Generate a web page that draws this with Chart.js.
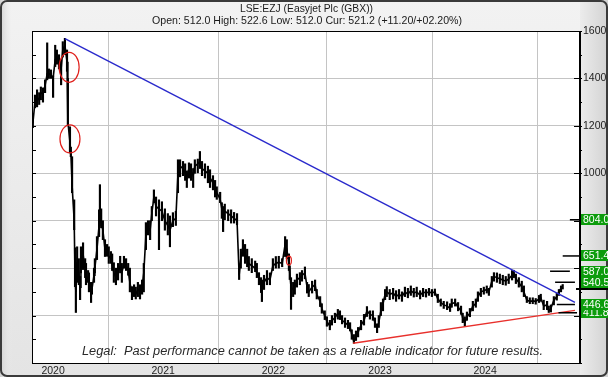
<!DOCTYPE html>
<html>
<head>
<meta charset="utf-8">
<script src="https://cdn.jsdelivr.net/npm/chart.js@4.4.1/dist/chart.umd.min.js"></script>
<style>
html,body{margin:0;padding:0;background:#e9e9e9;overflow:hidden;}
canvas{display:block;}
</style>
</head>
<body>
<canvas id="c" width="608" height="377" style="width:608px;height:377px"></canvas>
<script>
// ---- DATA (trading-session index since late Oct 2019, GBX) ----
const sessions = [2,7,12,17,21,26,31,36,40,45,50,55,59,64,69,73,78,83,85,90,92,95,100,102,104,107,111,114,116,121,126,128,133,135,140,142,147,149,154,159,161,164,168,173,178,182,187,190,194,199,204,209,213,218,223,228,232,237,242,246,251,256,261,265,270,275,280,284,289,294,301,308,315,322,327,334,341,346,351,358,363,367,372,377,382,386,393,398,403,410,417,422,429,434,438,446,450,453,457,465,472,479,486,491,495,500,505,510,514,521,529,533,538,543,545,550,557,564,571,578,585,593,600,604,609,611,614,619,623,628,635,640,647,652,656,664,671,675,683,687,694,699,706,711,718,725,730,735,742,749,754,758,763,768,773,780,787,794,801,808,813,818,822,827,832,837,841,848,856,863,870,877,884,891,898,905,912,920,927,934,941,948,955,962,969,976,984,991,995,1003,1010,1017,1021,1026,1031,1038,1045,1052,1057,1064,1071,1078,1083,1090,1095,1102,1109,1116,1123,1130,1138,1142,1147,1154,1161,1166,1173,1180,1187,1194,1202,1206,1213,1221,1225,1230,1237,1244,1249,1254,1258];
const closes = [1210,1300,1320,1310,1340,1335,1370,1420,1420,1415,1400,1480,1490,1470,1440,1520,1540,1470,1220,1130,1090,950,800,560,500,620,580,520,650,660,590,560,560,530,500,510,570,600,680,780,870,800,760,680,670,650,640,620,580,560,580,610,580,620,610,590,540,490,500,490,510,500,520,580,740,770,760,830,900,860,850,840,800,780,760,800,810,1000,1030,1020,1000,980,1020,1010,990,1030,1040,1050,1020,1010,1000,980,960,940,920,890,850,830,840,830,820,810,800,570,640,690,660,640,620,610,600,580,560,530,520,540,560,550,610,620,625,620,700,680,620,580,520,510,520,550,560,570,580,520,500,520,530,490,460,430,400,375,355,380,390,410,400,380,370,360,350,320,290,310,330,360,380,420,405,400,370,345,370,420,450,490,500,490,495,480,490,480,500,490,505,495,500,485,500,495,500,495,500,470,455,445,440,430,450,455,435,420,390,370,395,410,440,450,480,500,505,510,500,545,565,560,555,550,545,555,570,580,555,540,520,500,465,460,462,460,470,475,440,445,420,430,465,480,500,515,521];
const highs = [1246,1330,1352,1340,1364,1360,1394,1550,1440,1436,1410,1540,1520,1500,1478,1555,1569,1520,1400,1196,1110,1070,888,686,623,690,640,565,690,707,640,620,590,580,540,540,600,640,733,846,952,850,800,720,700,690,670,660,623,600,620,650,620,650,640,620,600,522,530,520,540,530,550,620,792,800,800,860,930,900,888,880,850,830,820,834,840,1057,1057,1050,1040,1010,1044,1040,1020,1057,1060,1092,1050,1040,1030,1015,990,970,943,920,876,860,870,846,846,835,830,600,680,720,700,680,649,640,630,620,581,560,550,570,590,580,640,649,650,640,733,720,660,610,560,540,550,575,581,590,605,540,531,545,550,510,480,450,420,395,380,400,410,426,420,400,390,380,370,340,320,335,350,380,405,438,420,420,390,365,400,455,470,510,522,510,515,505,510,500,520,515,525,515,520,505,515,510,515,510,512,490,470,460,458,450,470,470,455,440,410,395,415,430,460,470,500,515,520,525,515,565,581,580,575,570,565,575,590,591,575,560,545,525,480,475,475,472,485,490,465,460,440,445,480,495,510,525,531];
const lows = [1192,1276,1280,1290,1310,1300,1340,1394,1400,1400,1320,1450,1460,1440,1373,1490,1500,1430,1200,1086,1070,918,762,522,413,540,530,467,580,594,560,530,540,500,455,490,540,580,636,733,792,770,720,649,650,620,620,590,540,530,550,580,540,600,590,570,500,467,480,470,480,470,490,500,678,740,720,800,876,820,678,800,760,740,690,775,780,918,985,990,970,940,980,970,940,1000,1002,1020,990,980,960,940,930,900,890,876,810,754,804,800,790,790,783,552,600,650,620,606,590,581,585,560,530,497,459,510,530,530,590,600,600,606,649,640,590,552,426,480,490,520,530,545,555,495,480,495,505,470,438,410,383,355,340,360,370,385,383,365,350,345,335,300,283,295,310,340,360,396,385,380,350,328,350,400,420,467,480,467,470,460,470,460,480,475,485,478,480,470,480,478,485,480,485,455,440,430,425,417,435,440,420,405,370,354,380,395,420,435,460,480,490,495,485,520,545,540,535,530,528,535,550,560,535,520,500,480,455,450,450,448,455,460,425,425,413,415,445,465,485,500,512];

const sessionMax = 1299;
const yearStarts = [50, 311, 572, 825, 1074];
const yearLabels = ['2020', '2021', '2022', '2023', '2024'];
const yTicks = [200,300,400,500,600,700,800,900,1000,1100,1200,1300,1400,1500,1600];

const blueX = [78, 1287], blueY = [1568, 456];
const redX  = [761, 1287], redY  = [283, 422];

const levels    = [804.0, 651.4, 587.0, 540.5, 411.8, 446.6];
const levelFrom = [1275, 1258, 1228, 1240, 1248, 1244];
const levelTo   = [1299, 1299, 1275, 1287, 1292, 1287];
const openLevel = 512.0;

const markX = [88, 90, 609];
const markY = [1447, 1145, 632];

const titleText = 'LSE:EZJ (Easyjet Plc (GBX))';
const subText = 'Open: 512.0 High: 522.6 Low: 512.0 Cur: 521.2 (+11.20/+02.20%)';
const legalText = 'Legal:  Past performance cannot be taken as a reliable indicator for future results.';

// ---- STYLE ----
const FONT = '"Liberation Sans", Arial, sans-serif';
const markRx = [10, 10, 2.5], markRy = [15, 14, 4.5];

const deco = {
  id: 'deco',
  beforeDraw(chart) {
    const {ctx, chartArea: a, width: W, height: H} = chart;
    ctx.save();
    const g = ctx.createLinearGradient(0, 0, 0, H);
    g.addColorStop(0, '#f2f2f2'); g.addColorStop(1, '#e4e4e4');
    ctx.fillStyle = g; ctx.fillRect(0, 0, W, H);
    const gr = ctx.createLinearGradient(a.right, 0, W, 0);
    gr.addColorStop(0, '#ececec'); gr.addColorStop(1, '#d2d2d2');
    ctx.fillStyle = gr; ctx.fillRect(a.right, 0, W - a.right, H);
    const gl = ctx.createLinearGradient(0, 0, 12, 0);
    gl.addColorStop(0, '#d0d0d0'); gl.addColorStop(1, 'rgba(236,236,236,0)');
    ctx.fillStyle = gl; ctx.fillRect(0, 0, 12, H);
    ctx.strokeStyle = '#3a3a3a'; ctx.lineWidth = 2;
    ctx.beginPath(); ctx.roundRect(1, 1, W - 2, H - 2, 6); ctx.stroke();
    ctx.fillStyle = '#ffffff';
    ctx.fillRect(a.left, a.top, a.right - a.left, a.bottom - a.top);
    ctx.restore();
  },
  afterDraw(chart) {
    const {ctx, chartArea: a, width: W} = chart;
    const xs = chart.scales.x, ys = chart.scales.y;
    ctx.save();
    // plot border
    ctx.strokeStyle = '#000'; ctx.lineWidth = 1;
    ctx.strokeRect(a.left + 0.5, a.top + 0.5, a.right - a.left - 1, a.bottom - a.top);
    // tick marks
    yTicks.forEach(v => {
      const y = Math.round(ys.getPixelForValue(v)) + 0.5;
      const major = v % 200 === 0;
      ctx.beginPath();
      ctx.moveTo(a.right - (major ? 6 : 0), y); ctx.lineTo(a.right + 2, y);
      ctx.moveTo(a.left, y); ctx.lineTo(a.left + 4, y);
      ctx.stroke();
    });
    // ellipses
    ctx.strokeStyle = '#e0201c'; ctx.lineWidth = 1.2;
    markX.forEach((m, i) => {
      ctx.beginPath();
      ctx.ellipse(xs.getPixelForValue(m), ys.getPixelForValue(markY[i]), markRx[i], markRy[i], 0, 0, Math.PI * 2);
      ctx.stroke();
    });
    // level lines
    ctx.strokeStyle = '#000'; ctx.lineWidth = 1.5;
    levels.forEach((v, i) => {
      const y = ys.getPixelForValue(v);
      ctx.beginPath();
      ctx.moveTo(xs.getPixelForValue(levelFrom[i]), y);
      ctx.lineTo(xs.getPixelForValue(levelTo[i]), y);
      ctx.stroke();
    });
    // green labels
    ctx.font = '10.5px ' + FONT; ctx.textBaseline = 'middle'; ctx.textAlign = 'left';
    levels.forEach(v => {
      const y = ys.getPixelForValue(v);
      ctx.fillStyle = '#0c9c0c';
      ctx.fillRect(a.right + 1, Math.round(y - 5.5), W - a.right - 1, 11);
      ctx.fillStyle = '#ffffff';
      ctx.fillText(v.toFixed(1), a.right + 3, y + 0.5);
    });
    // open line across label column
    const yo = ys.getPixelForValue(openLevel);
    ctx.fillStyle = '#000';
    ctx.fillRect(a.right - 4, Math.round(yo) - 1, W - a.right + 4, 2);
    // titles
    const fitText = (t, font, cx, y, w, color) => {
      ctx.font = font; ctx.fillStyle = color; ctx.textAlign = 'left'; ctx.textBaseline = 'alphabetic';
      const m = ctx.measureText(t).width; const s = w / m;
      ctx.save(); ctx.translate(cx - w / 2, y); ctx.scale(s, 1); ctx.fillText(t, 0, 0); ctx.restore();
    };
    fitText(titleText, '11px ' + FONT, 306.5, 11.5, 133, '#1a1a1a');
    fitText(subText, '11px ' + FONT, 307, 24, 310, '#1a1a1a');
    fitText(legalText, 'italic 12.5px ' + FONT, 312.5, 354.5, 461, '#2a2a2a');
    ctx.restore();
  }
};

const chart = new Chart(document.getElementById('c'), {
  type: 'bar',
  data: {
    datasets: [
      { type: 'line', data: sessions.map((s, i) => ({x: s, y: closes[i]})), borderColor: '#000', borderWidth: 1.6, pointRadius: 0, tension: 0, order: 2 },
      { type: 'bar', data: sessions.map((s, i) => ({x: s, y: [lows[i], highs[i]]})), backgroundColor: '#000', borderWidth: 0, barThickness: 1.5, grouped: false, order: 3 },
      { type: 'line', data: blueX.map((x, i) => ({x, y: blueY[i]})), borderColor: '#2a2acc', borderWidth: 1.4, pointRadius: 0, order: 1 },
      { type: 'line', data: redX.map((x, i) => ({x, y: redY[i]})), borderColor: '#e8302c', borderWidth: 1.4, pointRadius: 0, order: 1 }
    ]
  },
  options: {
    responsive: false, animation: false, devicePixelRatio: 1,
    layout: { padding: { left: 32, top: 31, right: 0, bottom: 0 } },
    plugins: { legend: { display: false }, tooltip: { enabled: false }, title: { display: false } },
    scales: {
      x: {
        type: 'linear', min: 0, max: sessionMax, position: 'bottom', offset: false,
        afterBuildTicks: s => { s.ticks = yearStarts.map(v => ({value: v})); },
        afterFit: s => { s.height = 14; },
        grid: { color: '#c4c4c4', drawTicks: false, lineWidth: 1 },
        border: { display: true, color: '#000' },
        ticks: { callback: v => yearLabels[yearStarts.indexOf(v)] || '', font: { size: 10.5, family: FONT }, color: '#222', padding: 2, maxRotation: 0, autoSkip: false }
      },
      y: {
        type: 'linear', position: 'right', min: 200, max: 1600,
        afterBuildTicks: s => { s.ticks = yTicks.map(v => ({value: v})); },
        afterFit: s => { s.width = 28; },
        grid: { color: c => (c.tick && c.tick.value % 200 === 0 && c.tick.value > 200 && c.tick.value < 1600) ? '#c4c4c4' : 'rgba(0,0,0,0)', drawTicks: false },
        border: { display: true, color: '#000' },
        ticks: { callback: v => (v >= 1000 && v % 200 === 0) ? String(v) : '', font: { size: 10.5, family: FONT }, color: '#222', padding: 3, autoSkip: false }
      }
    }
  },
  plugins: [deco]
});
</script>
</body>
</html>
